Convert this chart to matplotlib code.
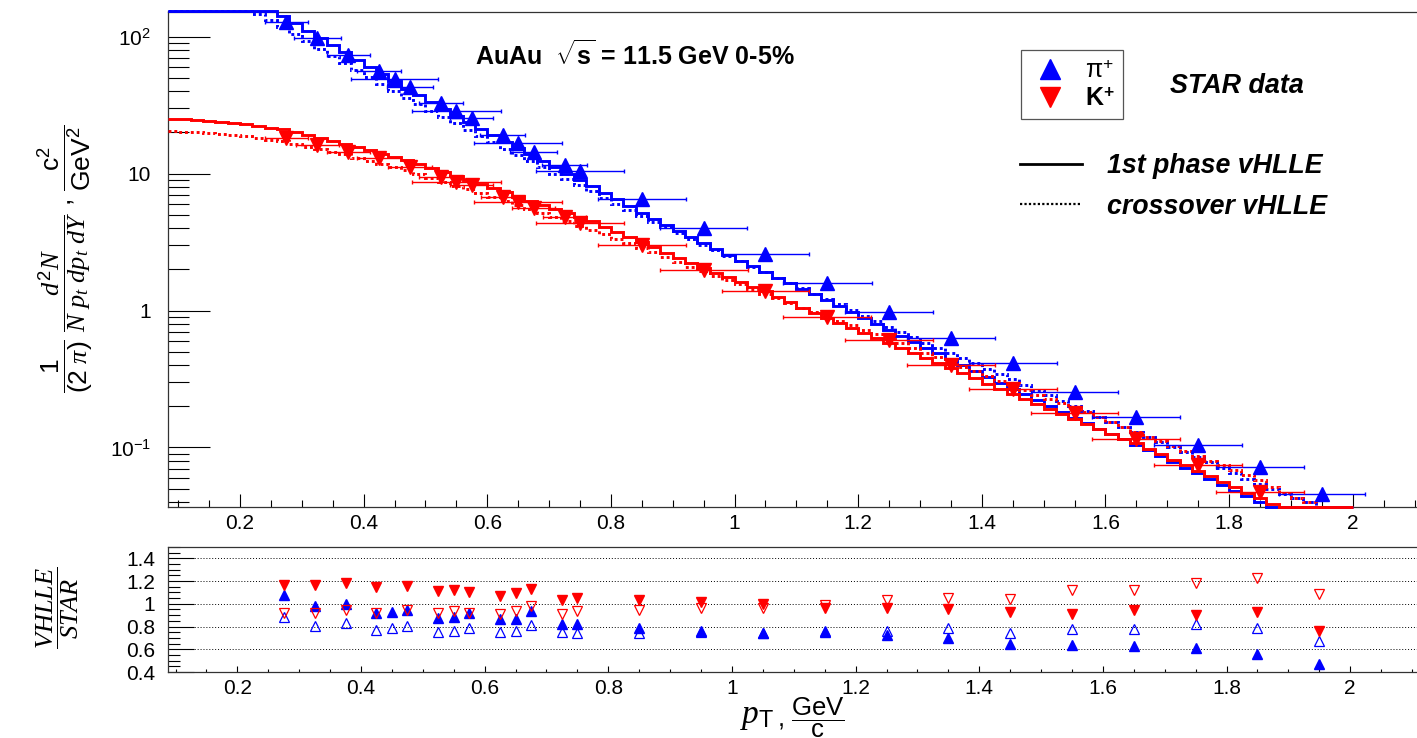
import numpy as np
import matplotlib
matplotlib.use('Agg')
import matplotlib.pyplot as plt
from matplotlib.lines import Line2D
from matplotlib.ticker import FixedLocator, MultipleLocator, FuncFormatter, NullFormatter, LogLocator

plt.rcParams['font.family'] = 'Liberation Sans'
plt.rcParams['mathtext.fontset'] = 'custom'
plt.rcParams['mathtext.rm'] = 'Liberation Sans'
plt.rcParams['mathtext.it'] = 'Liberation Serif:italic'
plt.rcParams['mathtext.bf'] = 'Liberation Sans:bold'
plt.rcParams['mathtext.sf'] = 'Liberation Sans'

# STAR data, pi+
pi_pt = [0.275, 0.325, 0.375, 0.425, 0.45, 0.475, 0.525, 0.55, 0.575, 0.625, 0.65, 0.675, 0.725,
         0.75, 0.85, 0.95, 1.05, 1.15, 1.25, 1.35, 1.45, 1.55, 1.65, 1.75, 1.85, 1.95]
pi_y = [128, 98, 74, 56.5, 49, 43, 33, 28.8, 25.6, 19.3, 16.8, 14.5, 11.6,
        10.5, 6.56, 4.03, 2.57, 1.60, 0.98, 0.635, 0.417, 0.256, 0.166, 0.105, 0.0715, 0.0454]
pi_xerr = [0.035, 0.038, 0.035, 0.035, 0.07, 0.037, 0.036, 0.072, 0.035, 0.036, 0.071, 0.038, 0.036,
           0.071, 0.071, 0.07, 0.071, 0.072, 0.071, 0.071, 0.071, 0.071, 0.071, 0.071, 0.071, 0.07]

# STAR data, K+
k_pt = [0.275, 0.325, 0.375, 0.425, 0.475, 0.525, 0.55, 0.575, 0.625, 0.65, 0.675, 0.725,
        0.75, 0.85, 0.95, 1.05, 1.15, 1.25, 1.35, 1.45, 1.55, 1.65, 1.75, 1.85, 1.95]
k_y = [18.3, 16.3, 14.5, 12.9, 11.2, 9.5, 8.7, 8.3, 6.8, 6.25, 5.65, 4.85,
       4.39, 3.03, 1.99, 1.38, 0.904, 0.604, 0.397, 0.265, 0.177, 0.116, 0.075, 0.047, 0.030]
k_xerr = [0.035, 0.035, 0.035, 0.035, 0.035, 0.035, 0.072, 0.035, 0.035, 0.071, 0.035, 0.035,
          0.071, 0.071, 0.071, 0.071, 0.071, 0.071, 0.071, 0.071, 0.071, 0.071, 0.071, 0.071, 0.071]

# VHLLE / STAR ratios (filled = 1st phase, open = crossover)
pi_r1 = [1.08, 0.98, 1.0, 0.92, 0.93, 0.945, 0.875, 0.88, 0.915, 0.865, 0.865, 0.94, 0.82,
         0.82, 0.79, 0.76, 0.74, 0.75, 0.727, 0.70, 0.645, 0.636, 0.63, 0.615, 0.557, 0.47]
pi_r2 = [0.885, 0.806, 0.835, 0.77, 0.785, 0.806, 0.75, 0.76, 0.79, 0.75, 0.76, 0.81, 0.75,
         0.74, 0.74, 0.75, 0.745, 0.76, 0.76, 0.79, 0.74, 0.777, 0.777, 0.82, 0.783, 0.674]
k_r1 = [1.165, 1.165, 1.18, 1.145, 1.16, 1.115, 1.12, 1.10, 1.065, 1.095, 1.13, 1.035,
        1.055, 1.035, 1.02, 1.0, 0.967, 0.962, 0.953, 0.924, 0.91, 0.947, 0.903, 0.93, 0.762]
k_r2 = [0.92, 0.92, 0.945, 0.92, 0.945, 0.915, 0.94, 0.915, 0.91, 0.94, 0.98, 0.91,
        0.94, 0.947, 0.962, 0.967, 0.99, 1.035, 1.055, 1.04, 1.12, 1.12, 1.18, 1.226, 1.09]

# vHLLE spectra, bins of 0.02 GeV/c starting at 0.08
pi_1st = [417, 372, 331, 294, 260, 230, 204, 180, 160, 141,
          125, 111, 98.0, 86.7, 76.7,
          67.9, 60.1, 53.2, 47.1, 41.7,
          37.2, 33.3, 29.7, 26.5, 23.7,
          21.3, 19.1, 17.1, 15.4, 13.8,
          12.4, 11.2, 10.0, 9.04, 8.13,
          7.26, 6.49, 5.79, 5.19,
          4.68, 4.22, 3.80, 3.43, 3.09,
          2.81, 2.55, 2.31, 2.10, 1.91,
          1.73, 1.58, 1.44, 1.31, 1.19,
          1.07, 0.970, 0.877, 0.793, 0.716,
          0.650, 0.590, 0.536, 0.486, 0.442,
          0.400, 0.362, 0.328, 0.297, 0.269,
          0.244, 0.221, 0.200, 0.181, 0.164,
          0.150, 0.137, 0.125, 0.115, 0.105,
          0.0951, 0.0863, 0.0783, 0.0711, 0.0646,
          0.0586, 0.0532, 0.0483, 0.0439, 0.0398,
          0.0355, 0.0316, 0.0282, 0.0251, 0.0224, 0.0200, 0.0178]
pi_cross = [331, 295, 263, 234, 209, 186, 166, 147, 132, 117,
            104, 92.5, 82.0, 72.8, 64.6,
            57.4, 51.1, 45.4, 40.4, 35.9,
            32.2, 28.9, 25.9, 23.3, 20.9,
            18.8, 16.9, 15.2, 13.7, 12.3,
            11.1, 10.0, 9.08, 8.20, 7.41,
            6.68, 6.03, 5.43, 4.90,
            4.45, 4.04, 3.66, 3.33, 3.02,
            2.75, 2.51, 2.29, 2.09, 1.91,
            1.74, 1.59, 1.46, 1.33, 1.22,
            1.11, 1.01, 0.916, 0.834, 0.759,
            0.695, 0.637, 0.583, 0.535, 0.490,
            0.449, 0.411, 0.377, 0.345, 0.316,
            0.288, 0.263, 0.240, 0.219, 0.200,
            0.183, 0.167, 0.153, 0.141, 0.129,
            0.119, 0.109, 0.100, 0.0925, 0.0851,
            0.0776, 0.0708, 0.0646, 0.0589, 0.0537,
            0.0495, 0.046, 0.043, 0.040, 0.033]
k_1st = [25.1, 24.9, 24.6, 24.3, 23.9, 23.4, 22.9, 22.3, 21.7, 21.1,
         20.1, 19.1, 18.2, 17.3, 16.4,
         15.6, 14.8, 14.0, 13.3, 12.6,
         11.8, 11.0, 10.3, 9.64, 9.02,
         8.39, 7.82, 7.28, 6.78, 6.31,
         5.89, 5.50, 5.13, 4.79, 4.47,
         4.10, 3.76, 3.45, 3.16,
         2.90, 2.65, 2.43, 2.23, 2.04,
         1.89, 1.75, 1.61, 1.49, 1.38,
         1.26, 1.15, 1.05, 0.964, 0.881,
         0.811, 0.746, 0.687, 0.632, 0.582,
         0.535, 0.491, 0.451, 0.414, 0.380,
         0.348, 0.319, 0.292, 0.268, 0.245,
         0.226, 0.208, 0.191, 0.176, 0.162,
         0.149, 0.137, 0.126, 0.116, 0.107,
         0.0977, 0.0891, 0.0813, 0.0741, 0.0676,
         0.0617, 0.0562, 0.0513, 0.0468, 0.0427,
         0.0385, 0.034, 0.031, 0.028, 0.025, 0.022, 0.020]
k_cross = [20.4, 20.2, 20.0, 19.7, 19.5, 19.1, 18.8, 18.3, 17.7, 17.2,
           16.4, 15.7, 15.1, 14.4, 13.8,
           13.1, 12.4, 11.8, 11.2, 10.6,
           9.93, 9.31, 8.73, 8.18, 7.67,
           7.18, 6.71, 6.28, 5.87, 5.50,
           5.13, 4.79, 4.47, 4.17, 3.89,
           3.61, 3.35, 3.11, 2.88,
           2.66, 2.45, 2.26, 2.09, 1.93,
           1.79, 1.66, 1.55, 1.44, 1.33,
           1.23, 1.14, 1.05, 0.975, 0.902,
           0.838, 0.778, 0.723, 0.671, 0.624,
           0.577, 0.533, 0.493, 0.456, 0.422,
           0.389, 0.359, 0.331, 0.305, 0.282,
           0.262, 0.243, 0.226, 0.210, 0.195,
           0.180, 0.166, 0.153, 0.141, 0.130,
           0.120, 0.111, 0.102, 0.0944, 0.0871,
           0.0802, 0.0738, 0.0679, 0.0625, 0.0575,
           0.0513, 0.0468, 0.0427, 0.0398, 0.034]

W, H = 1417, 738
fig = plt.figure(figsize=(W / 100, H / 100), dpi=100)

def box(l, t, r, b):
    return [l / W, 1 - b / H, (r - l) / W, (b - t) / H]

ax1 = fig.add_axes(box(167.5, 11.5, W, 507))
ax2 = fig.add_axes(box(167.5, 547, W, 672))

y_lo, y_hi = 0.0367, 152.8
x1_lo, x1_hi = 0.0827, 2.104
ax1.set_yscale('log')
ax1.set_ylim(y_lo, y_hi)
ax1.set_xlim(x1_lo, x1_hi)

def hist(ax, vals, color, ls):
    vals = np.asarray(vals, dtype=float)
    edges = 0.08 + 0.02 * np.arange(len(vals) + 1)
    edges = np.clip(edges, x1_lo, None)
    ax.stairs(np.clip(vals, y_lo, y_hi), edges, baseline=None, color=color,
              lw=2.1, ls=ls, clip_on=False, zorder=3)

dot = (0, (1, 1))
hist(ax1, pi_1st, 'blue', '-')
hist(ax1, pi_cross, 'blue', dot)
hist(ax1, k_1st, 'red', '-')
hist(ax1, k_cross, 'red', dot)

ax1.errorbar(pi_pt, pi_y, xerr=pi_xerr, fmt='^', color='blue', ms=9.5, elinewidth=1,
             capsize=1.5, capthick=1, zorder=5)
ax1.errorbar(k_pt, k_y, xerr=k_xerr, fmt='v', color='red', ms=9.5, elinewidth=1,
             capsize=1.5, capthick=1, zorder=5)

# ratio panel
ax2.set_xlim(0.087, 2.108)
ax2.set_ylim(0.4, 1.5)
for yv in [0.6, 0.8, 1.0, 1.2, 1.4]:
    ax2.axhline(yv, color='black', lw=0.7, ls=(0, (1, 2)), zorder=1)
ax2.plot(pi_pt, pi_r1, ls='none', marker='^', color='blue', ms=7, zorder=3)
ax2.plot(pi_pt, pi_r2, ls='none', marker='^', mfc='none', mec='blue', mew=0.9, ms=7, zorder=3)
ax2.plot(k_pt, k_r1, ls='none', marker='v', color='red', ms=7, zorder=3)
ax2.plot(k_pt, k_r2, ls='none', marker='v', mfc='none', mec='red', mew=0.9, ms=7, zorder=3)

fmt_g = FuncFormatter(lambda v, p: '%g' % round(v, 2))
ylab = {0.1: r'$\mathregular{10^{-1}}$', 1: '1', 10: '10', 100: r'$\mathregular{10^{2}}$'}

ax1.xaxis.set_major_locator(MultipleLocator(0.2))
ax1.xaxis.set_minor_locator(MultipleLocator(0.05))
ax1.xaxis.set_major_formatter(fmt_g)
ax1.yaxis.set_major_locator(FixedLocator([0.1, 1, 10, 100]))
ax1.yaxis.set_major_formatter(FuncFormatter(lambda v, p: ylab.get(round(v, 3), '')))
ax1.yaxis.set_minor_locator(LogLocator(base=10, subs=np.arange(2, 10)))
ax1.yaxis.set_minor_formatter(NullFormatter())
ax1.tick_params(axis='y', which='major', direction='in', length=30, width=0.8, labelsize=15, pad=12)
ax1.tick_params(axis='y', which='minor', direction='in', length=15, width=0.8)
ax1.tick_params(axis='x', which='major', direction='in', length=9.5, width=0.8, labelsize=15, pad=5)
ax1.tick_params(axis='x', which='minor', direction='in', length=5, width=0.8)

ax2.xaxis.set_major_locator(MultipleLocator(0.2))
ax2.xaxis.set_minor_locator(MultipleLocator(0.05))
ax2.xaxis.set_major_formatter(fmt_g)
ax2.yaxis.set_major_locator(MultipleLocator(0.2))
ax2.yaxis.set_minor_locator(MultipleLocator(0.05))
ax2.yaxis.set_major_formatter(fmt_g)
ax2.tick_params(axis='y', which='major', direction='in', length=19, width=0.8, labelsize=15, pad=9)
ax2.tick_params(axis='y', which='minor', direction='in', length=8.5, width=0.8)
ax2.tick_params(axis='x', which='major', direction='in', length=4.5, width=0.8, labelsize=15, pad=5)
ax2.tick_params(axis='x', which='minor', direction='in', length=2.2, width=0.8)

for ax in (ax1, ax2):
    ax.spines['right'].set_visible(False)
    for s in ('top', 'left', 'bottom'):
        ax.spines[s].set_linewidth(0.9)
        ax.spines[s].set_color('#333333')

# labels
fig.text(65 / W, 1 - 259 / H,
         r'$\dfrac{\mathit{1}}{\mathit{(2\ \pi)}}\ \dfrac{d^{\mathit{2}}N}{N\ p_{t}\ dp_{t}\ dY}$ , '
         r'$\dfrac{\mathrm{c^{2}}}{\mathrm{GeV^{2}}}$',
         rotation=90, ha='center', va='center', fontsize=19)
fig.text(58 / W, 1 - 608 / H, r'$\dfrac{VHLLE}{STAR}$', rotation=90, ha='center', va='center',
         fontsize=19)
fig.text(757 / W, 1 - 717 / H, r'$p_{\mathrm{T}}$', ha='center', va='center', fontsize=24)
fig.text(811 / W, 1 - 718 / H, r', $\dfrac{\mathrm{GeV}}{\mathrm{c}}$',
         ha='center', va='center', fontsize=18.5)

fig.text(475 / W, 1 - 55 / H, r'AuAu  $\sqrt{\mathbf{s}}$ = 11.5 GeV 0-5%', ha='left', va='center',
         fontsize=18, fontweight='bold')
fig.text(1170 / W, 1 - 86 / H, 'STAR data', ha='left', va='center', fontsize=19.4,
         fontweight='bold', fontstyle='italic')

# legends
h_pi = Line2D([], [], ls='none', marker='^', color='blue', ms=14)
h_k = Line2D([], [], ls='none', marker='v', color='red', ms=14)
leg1 = ax1.legend([h_pi, h_k], [r'π$^{+}$', r'K$^{\mathbf{+}}$'], loc='upper left',
                  bbox_to_anchor=(1021 / W, 1 - 50 / H), bbox_transform=fig.transFigure,
                  frameon=True, fancybox=False, edgecolor='#555555', framealpha=1,
                  fontsize=18, handlelength=1.6, handletextpad=0.6, borderpad=0.35,
                  labelspacing=0.15, borderaxespad=0)
leg1.get_frame().set_linewidth(0.9)
leg1.get_texts()[1].set_fontweight('bold')
ax1.add_artist(leg1)

h_1st = Line2D([], [], color='black', lw=2)
h_cr = Line2D([], [], color='black', lw=1.6, ls=(0, (1, 1)))
leg2 = ax1.legend([h_1st, h_cr], ['1st phase vHLLE', 'crossover vHLLE'], loc='upper left',
                  bbox_to_anchor=(1020 / W, 1 - 153 / H), bbox_transform=fig.transFigure,
                  frameon=False, prop={'size': 19.3, 'weight': 'bold', 'style': 'italic'},
                  handlelength=2.3, handletextpad=0.95, borderpad=0, labelspacing=0.55,
                  borderaxespad=0)

fig.savefig('out.png', dpi=100)
